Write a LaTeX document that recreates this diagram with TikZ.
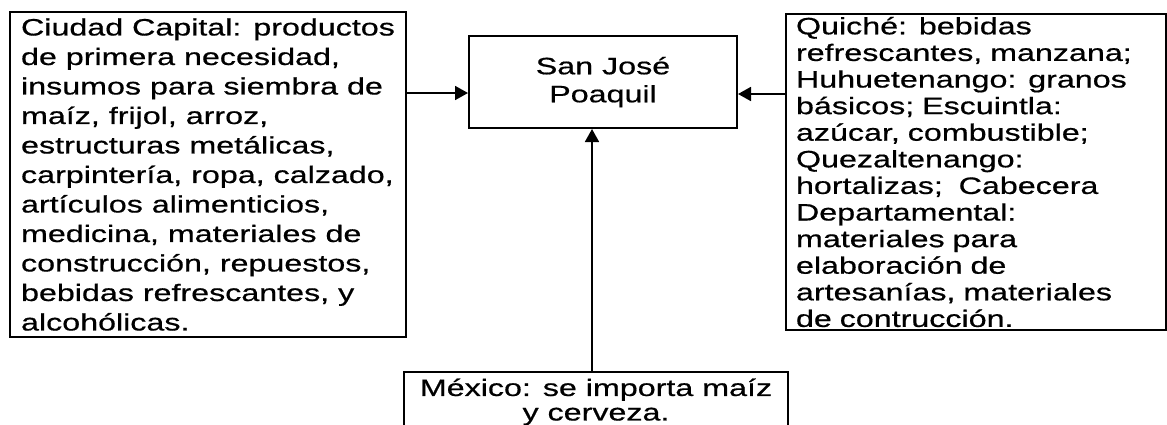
\documentclass[tikz,border=0pt]{standalone}
\usepackage{fontspec}
\setmainfont[FakeStretch=1.36,FakeBold=0.6]{Liberation Sans}
\usetikzlibrary{arrows.meta}

\begin{document}
\begin{tikzpicture}[x=1pt,y=-1pt,line width=1.8pt,>={Triangle[length=13pt,width=14pt]}]
        \useasboundingbox (0,0) rectangle (1167,424);
        \begin{scope}[every node/.style={draw,line width=2pt,inner ysep=0pt,
                        font=\fontsize{23.7}{29.5}\selectfont}]
            \node (capital) at (9,11) [anchor=north west,align=left,
                minimum width=396pt,minimum height=325pt]{Ciudad Capital: productos\\
                de primera necesidad,\\ insumos para siembra de\\ maíz, frijol, arroz,\\
                estructuras metálicas,\\ carpintería, ropa, calzado,\\
                artículos alimenticios,\\ medicina, materiales de\\
                construcción, repuestos,\\ bebidas refrescantes, y\\ alcohólicas.};
            \node (poaquil) at (468,35) [anchor=north west,align=center,
                minimum width=268pt,minimum height=92pt,
                font=\fontsize{23.7}{28}\selectfont]{San José\\ Poaquil};
            \node (quiche) at (785,13) [anchor=north west,align=left,
                text width=360pt,inner xsep=10pt,minimum height=316pt,
                font=\fontsize{23.7}{26.6}\selectfont]{Quiché: bebidas\\
                refrescantes, manzana;\\ Huhuetenango: granos\\ básicos; Escuintla:\\
                azúcar, combustible;\\ Quezaltenango:\\ hortalizas; \ Cabecera\\
                Departamental:\\ materiales para\\ elaboración de\\
                artesanías, materiales\\ de contrucción.};
            \node (mexico) at (596,371) [anchor=north,align=center,
                minimum width=384pt,inner ysep=6.5pt,
                font=\fontsize{23.7}{24.5}\selectfont]{México: se importa maíz\\ y cerveza.};
        \end{scope}

        \coordinate (izq) at (0,93);
        \coordinate (der) at (0,94);
        \coordinate (eje) at (592,0);
        \path[->] (capital.east |- izq) edge (poaquil.west |- izq);
        \path[->] (quiche.west |- der) edge (poaquil.east |- der);
        \path[->] (mexico.north -| eje) edge (poaquil.south -| eje);
    \end{tikzpicture}
\end{document}
